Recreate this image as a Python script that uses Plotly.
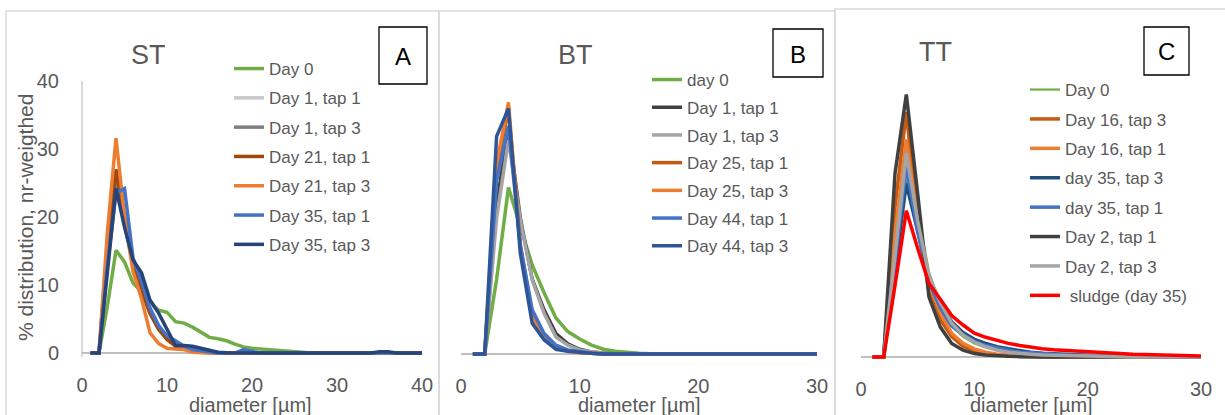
import plotly.graph_objects as go

W, H = 1225, 415

# ---------------- data ----------------
diam_A = list(range(1, 41))
diam_BC = list(range(1, 31))

st_names = ["Day 0", "Day 1, tap 1", "Day 1, tap 3", "Day 21, tap 1", "Day 21, tap 3", "Day 35, tap 1", "Day 35, tap 3"]
st_colors = ["#70AD47", "#C9C9C9", "#7F7F7F", "#9E480E", "#ED7D31", "#4472C4", "#264478"]
st_day0 = [0, 0, 7, 15.1, 13.4, 10.3, 9.0, 7.4, 6.3, 6.0, 4.6, 4.4, 3.8, 3.0, 2.3, 2.1, 1.8, 1.3, 0.9, 0.7,
           0.6, 0.5, 0.4, 0.25, 0.1, 0, 0, 0, 0, 0, 0, 0, 0, 0, 0, 0, 0, 0, 0, 0]
st_d1t1 = [0, 0, 14, 25, 20, 13.5, 10, 6.8, 4.2, 2.5, 1.3, 0.8, 0.4, 0.2, 0.1, 0, 0, 0, 0, 0,
           0, 0, 0, 0, 0, 0, 0, 0, 0, 0, 0, 0, 0, 0, 0, 0, 0, 0, 0, 0]
st_d1t3 = [0, 0, 15, 26, 19, 13, 9.5, 6.5, 4.0, 2.3, 1.2, 0.7, 0.4, 0.2, 0.1, 0, 0, 0, 0, 0,
           0, 0, 0, 0, 0, 0, 0, 0, 0, 0, 0, 0, 0, 0, 0, 0, 0, 0, 0, 0]
st_d21t1 = [0, 0, 16, 27, 20, 13, 9, 5.8, 3.5, 2.0, 1.0, 0.6, 0.3, 0.1, 0, 0, 0, 0, 0, 0,
            0, 0, 0, 0, 0, 0, 0, 0, 0, 0, 0, 0, 0, 0, 0, 0, 0, 0, 0, 0]
st_d21t3 = [0, 0, 18, 31.6, 20, 12, 8, 3.0, 1.4, 0.7, 0.6, 0.5, 0.1, 0, 0, 0, 0, 0, 0, 0,
            0, 0, 0, 0, 0, 0, 0, 0, 0, 0, 0, 0, 0, 0, 0, 0, 0, 0, 0, 0]
st_d35t1 = [0, 0, 13, 23.5, 24.2, 14, 10.5, 6.5, 4.0, 2.5, 1.8, 1.0, 0.5, 0.3, 0.1, 0, 0, 0, 0.5, 0.3,
            0, 0, 0, 0, 0, 0, 0, 0, 0, 0, 0, 0, 0, 0, 0, 0, 0, 0, 0, 0]
st_d35t3 = [0, 0, 12, 24.2, 18.5, 13.7, 11.8, 7.8, 5.9, 3.4, 1.1, 1.1, 1.0, 0.7, 0.4, 0.1, 0.05, 0, 0, 0,
            0, 0, 0, 0, 0, 0, 0, 0, 0, 0, 0, 0, 0, 0, 0.2, 0.2, 0, 0, 0, 0]
st_series = [st_day0, st_d1t1, st_d1t3, st_d21t1, st_d21t3, st_d35t1, st_d35t3]

bt_names = ["day 0", "Day 1, tap 1", "Day 1, tap 3", "Day 25, tap 1", "Day 25, tap 3", "Day 44, tap 1", "Day 44, tap 3"]
bt_colors = ["#70AD47", "#404040", "#A5A5A5", "#C55A11", "#ED7D31", "#4472C4", "#2F5597"]
bt_day0 = [0, 0, 11, 24.5, 18.7, 13.1, 9.0, 5.3, 3.3, 2.2, 1.3, 0.7, 0.4, 0.2, 0.1, 0.05, 0, 0, 0, 0,
           0, 0, 0, 0, 0, 0, 0, 0, 0, 0]
bt_d1t1 = [0, 0, 22, 33, 20, 11, 6.5, 3.0, 1.5, 0.7, 0.3, 0.1, 0, 0, 0, 0, 0, 0, 0, 0,
           0, 0, 0, 0, 0, 0, 0, 0, 0, 0]
bt_d1t3 = [0, 0, 20, 31.5, 19.7, 10.9, 6.0, 2.5, 1.3, 0.6, 0.3, 0.1, 0, 0, 0, 0, 0, 0, 0, 0,
           0, 0, 0, 0, 0, 0, 0, 0, 0, 0]
bt_d25t1 = [0, 0, 27, 36, 16, 5.5, 2.6, 1.1, 0.5, 0.2, 0.1, 0, 0, 0, 0, 0, 0, 0, 0, 0,
            0, 0, 0, 0, 0, 0, 0, 0, 0, 0]
bt_d25t3 = [0, 0, 28, 37, 15.5, 5.5, 2.4, 1.0, 0.4, 0.2, 0.1, 0, 0, 0, 0, 0, 0, 0, 0, 0,
            0, 0, 0, 0, 0, 0, 0, 0, 0, 0]
bt_d44t1 = [0, 0, 25.5, 33.5, 16, 6.5, 3.0, 1.3, 0.6, 0.3, 0.1, 0, 0, 0, 0, 0, 0, 0, 0, 0,
            0, 0, 0, 0, 0, 0, 0, 0, 0, 0]
bt_d44t3 = [0, 0, 32, 36.1, 14.8, 4.5, 2.1, 0.7, 0.4, 0.2, 0.1, 0, 0, 0, 0, 0, 0, 0, 0, 0,
            0, 0, 0, 0, 0, 0, 0, 0, 0, 0]
bt_series = [bt_day0, bt_d1t1, bt_d1t3, bt_d25t1, bt_d25t3, bt_d44t1, bt_d44t3]

tt_names = ["Day 0", "Day 16, tap 3", "Day 16, tap 1", "day 35, tap 3", "day 35, tap 1", "Day 2, tap 1", "Day 2, tap 3", " sludge (day 35)"]
tt_colors = ["#70AD47", "#C55A11", "#ED7D31", "#1F4E79", "#4472C4", "#404040", "#A5A5A5", "#FF0000"]
tt_day0 = [0, 0, 12, 26, 21.5, 12.5, 7.5, 4.5, 3.0, 2.0, 1.4, 1.0, 0.7, 0.5, 0.35, 0.25, 0.2, 0.15, 0.1, 0.1,
           0.05, 0, 0, 0, 0, 0, 0, 0, 0, 0]
tt_d16t3 = [0, 0, 22, 36, 20, 9.5, 5.5, 3.0, 1.6, 0.9, 0.5, 0.3, 0.2, 0.1, 0, 0, 0, 0, 0, 0,
            0, 0, 0, 0, 0, 0, 0, 0, 0, 0]
tt_d16t1 = [0, 0, 18, 32, 20, 11, 6.5, 3.5, 2.0, 1.2, 0.7, 0.4, 0.3, 0.2, 0.1, 0, 0, 0, 0, 0,
            0, 0, 0, 0, 0, 0, 0, 0, 0, 0]
tt_d35t3 = [0, 0, 13, 25.5, 18.5, 11.5, 7.8, 5.2, 3.6, 2.6, 2.0, 1.5, 1.2, 0.9, 0.7, 0.55, 0.45, 0.35, 0.3, 0.25,
            0.2, 0.17, 0.14, 0.12, 0.1, 0.08, 0.06, 0.05, 0.04, 0.03]
tt_d35t1 = [0, 0, 14, 28, 18.5, 11, 7.2, 4.6, 3.3, 2.3, 1.7, 1.3, 1.0, 0.75, 0.6, 0.5, 0.4, 0.3, 0.25, 0.2,
            0.17, 0.14, 0.12, 0.1, 0.08, 0.06, 0.05, 0.04, 0.03, 0.02]
tt_d2t1 = [0, 0, 27, 38.6, 24, 8.8, 4.4, 2.0, 1.0, 0.5, 0.3, 0.15, 0.1, 0.05, 0, 0, 0, 0, 0, 0,
           0, 0, 0, 0, 0, 0, 0, 0, 0, 0]
tt_d2t3 = [0, 0, 15, 30, 20, 12, 8, 5.0, 3.2, 2.2, 1.5, 1.0, 0.7, 0.5, 0.4, 0.3, 0.25, 0.2, 0.2, 0.15,
           0.1, 0, 0, 0, 0, 0, 0, 0, 0, 0]
tt_sludge = [0, 0, 10.5, 21.5, 16, 10.8, 8.5, 6.1, 4.7, 3.5, 2.9, 2.4, 2.0, 1.7, 1.4, 1.2, 1.05, 0.95, 0.85, 0.7,
             0.62, 0.55, 0.47, 0.4, 0.35, 0.3, 0.25, 0.2, 0.17, 0.15]
tt_series = [tt_day0, tt_d16t3, tt_d16t1, tt_d35t3, tt_d35t1, tt_d2t1, tt_d2t3, tt_sludge]

x_ticks_A = [0, 10, 20, 30, 40]
x_ticks_BC = [0, 10, 20, 30]
y_ticks = [0, 10, 20, 30, 40]

# ---------------- helpers ----------------
def px(x):
    return x / W

def py(y):
    return 1 - y / H

FONT = "Liberation Sans, Arial, sans-serif"
GREY_TXT = "#595959"
LINE_W = 3.5

fig = go.Figure()

def add_panel(xs, series, names, colors, xa, ya, legend, widths=None):
    for i, (vals, name, col) in enumerate(zip(series, names, colors)):
        w = LINE_W if widths is None else widths[i]
        fig.add_trace(go.Scatter(
            x=xs, y=vals, mode="lines", name=name,
            line=dict(color=col, width=w),
            xaxis=xa, yaxis=ya, legend=legend,
            legendgroup=f"{legend}_{i}",
        ))

add_panel(diam_A, st_series, st_names, st_colors, "x", "y", "legend")
add_panel(diam_BC, bt_series, bt_names, bt_colors, "x2", "y2", "legend2")
tt_widths = [2.2] + [LINE_W] * 7
add_panel(diam_BC, tt_series, tt_names, tt_colors, "x3", "y3", "legend3", tt_widths)

unit = 6.8
YPAD = 0.6

def ydom(zero_px):
    top = zero_px - 40 * unit
    bottom = zero_px + YPAD * unit
    return [py(bottom), py(top)]

tickfont = dict(family=FONT, size=20, color=GREY_TXT)
axis_common = dict(showgrid=False, ticks="", tickfont=tickfont, showline=False, automargin=False)

layout = dict(
    width=W, height=H,
    margin=dict(l=0, r=0, t=0, b=0, autoexpand=False),
    paper_bgcolor="white", plot_bgcolor="white",
    font=dict(family=FONT, color=GREY_TXT),
    showlegend=True,
    xaxis=dict(domain=[px(82), px(422)], range=[0, 40], tickvals=x_ticks_A, anchor="y",
               zeroline=True, zerolinecolor="#D9D9D9", zerolinewidth=1.5, ticklabelstandoff=14, **axis_common),
    yaxis=dict(domain=ydom(353), range=[-YPAD, 40], tickvals=y_ticks, anchor="x",
               zeroline=True, zerolinecolor="#BFBFBF", zerolinewidth=1.5, ticklabelstandoff=22, **axis_common),
    xaxis2=dict(domain=[px(461), px(817)], range=[0, 30], tickvals=x_ticks_BC, anchor="y2",
                zeroline=False, ticklabelstandoff=14, **axis_common),
    yaxis2=dict(domain=ydom(354), range=[-YPAD, 40], tickvals=y_ticks, anchor="x2", showticklabels=False,
                zeroline=True, zerolinecolor="#BFBFBF", zerolinewidth=1.5, **axis_common),
    xaxis3=dict(domain=[px(861), px(1201)], range=[0, 30], tickvals=x_ticks_BC, anchor="y3",
                zeroline=False, ticklabelstandoff=14, **axis_common),
    yaxis3=dict(domain=ydom(357), range=[-YPAD, 40], tickvals=y_ticks, anchor="x3", showticklabels=False,
                zeroline=True, zerolinecolor="#BFBFBF", zerolinewidth=1.5, **axis_common),
)

legfont = dict(family=FONT, size=17, color=GREY_TXT)
leg_common = dict(bgcolor="rgba(0,0,0,0)", font=legfont, xanchor="left", yanchor="top", itemwidth=30)
layout["legend"] = dict(x=px(229), y=py(51), tracegroupgap=4.2, **leg_common)
layout["legend2"] = dict(x=px(647), y=py(62), tracegroupgap=2.6, **leg_common)
layout["legend3"] = dict(x=px(1025), y=py(72), tracegroupgap=4.3, **leg_common)

fig.update_layout(**layout)

# panel frames
frames = [(6, 11, 439, 430), (439, 11, 835, 430), (835, 9, 1230, 430)]
for x0, y0, x1, y1 in frames:
    fig.add_shape(type="rect", xref="paper", yref="paper", x0=px(x0), x1=px(x1), y0=py(y1), y1=py(y0),
                  line=dict(color="#D9D9D9", width=1.5), fillcolor="rgba(0,0,0,0)", layer="below")

# letter boxes
boxes = [(379, 27, 427, 84, "A"), (773, 29, 823, 77, "B"), (1144, 27, 1189, 75, "C")]
for x0, y0, x1, y1, letter in boxes:
    fig.add_shape(type="rect", xref="paper", yref="paper", x0=px(x0), x1=px(x1), y0=py(y1), y1=py(y0),
                  line=dict(color="black", width=1.3), fillcolor="white")
    fig.add_annotation(xref="paper", yref="paper", x=px((x0 + x1) / 2), y=py((y0 + y1) / 2 + 1), text=letter,
                       showarrow=False, font=dict(family=FONT, size=24, color="black"),
                       xanchor="center", yanchor="middle")

# panel titles
for cx, cy, t in [(148, 55, "ST"), (575, 55, "BT"), (936, 52, "TT")]:
    fig.add_annotation(xref="paper", yref="paper", x=px(cx), y=py(cy), text=t, showarrow=False,
                       font=dict(family=FONT, size=27, color=GREY_TXT), xanchor="center", yanchor="middle")

# axis titles
for cx in [250, 639, 1031]:
    fig.add_annotation(xref="paper", yref="paper", x=px(cx), y=py(405), text="diameter [µm]", showarrow=False,
                       font=dict(family=FONT, size=20, color=GREY_TXT), xanchor="center", yanchor="middle")
fig.add_annotation(xref="paper", yref="paper", x=px(25), y=py(218), text="% distribution, nr-weigthed",
                   textangle=-90, showarrow=False, font=dict(family=FONT, size=21, color=GREY_TXT),
                   xanchor="center", yanchor="middle")

fig.write_html("out.html")
